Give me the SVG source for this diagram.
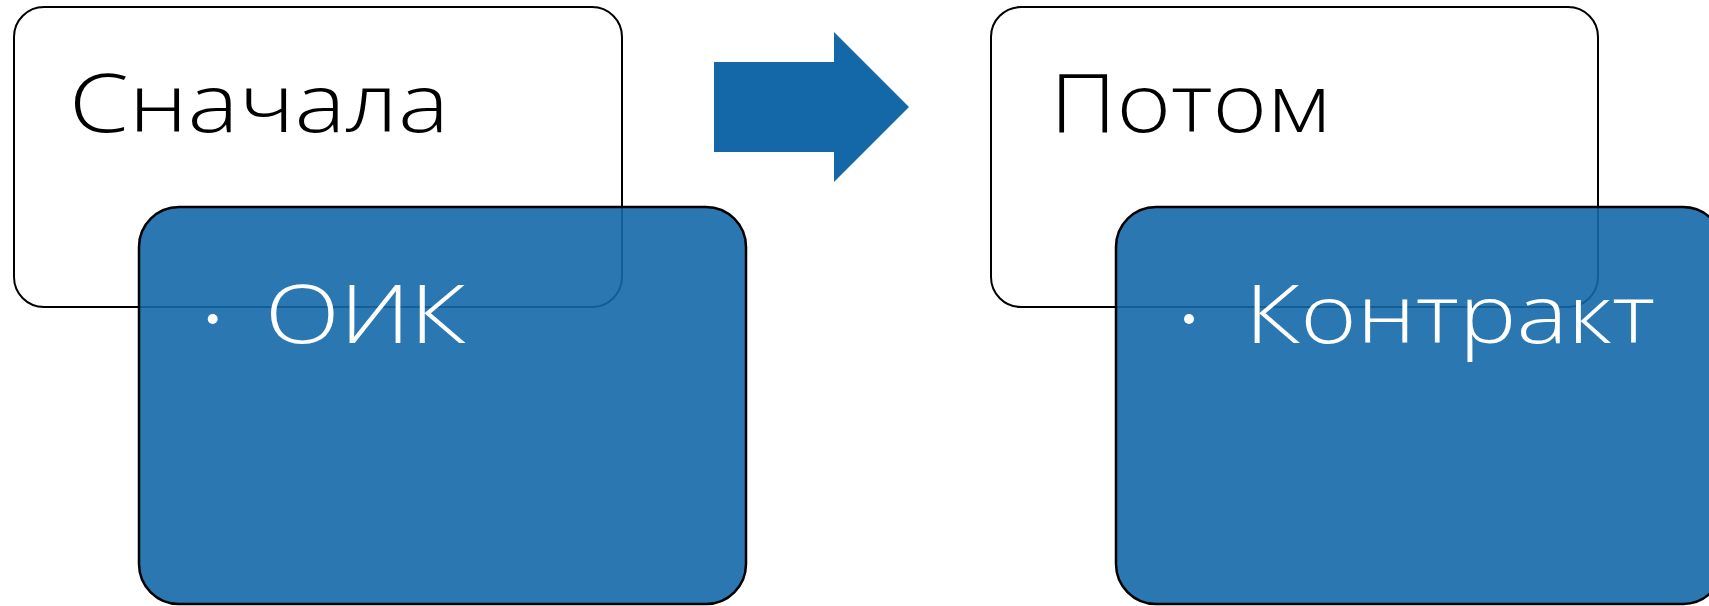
<svg xmlns="http://www.w3.org/2000/svg" width="1709" height="606" viewBox="0 0 1709 606">
<style>
.back{fill:#ffffff;stroke:#000000;stroke-width:2}
.front{fill:#1468A8;fill-opacity:0.9;stroke:#000000;stroke-width:2.5}
.t{font-family:"Open Sans","Liberation Sans",sans-serif;font-weight:300;font-size:81px}
.dark{fill:#000000}
.light{fill:#ffffff}
</style>
<rect width="1709" height="606" fill="#ffffff"/>
<g id="node-first">
<rect class="back" x="14" y="7" width="608" height="300" rx="30" ry="30"/>
<text class="t dark" x="69" y="131.5" textLength="380" lengthAdjust="spacingAndGlyphs">Сначала</text>
</g>
<g id="node-oik">
<rect class="front" x="139" y="207" width="607" height="397" rx="40" ry="40"/>
<circle class="light" cx="212.7" cy="319" r="5"/>
<text class="t light" x="265" y="342.5" textLength="201" lengthAdjust="spacingAndGlyphs">ОИК</text>
</g>
<g id="connectors">
<polygon points="714,62 834,62 834,32 909,107 834,182 834,152 714,152" fill="#1468A8"/>
</g>
<g id="node-then">
<rect class="back" x="991" y="7" width="607" height="300" rx="30" ry="30"/>
<text class="t dark" x="1050" y="131.5" textLength="280" lengthAdjust="spacingAndGlyphs">Потом</text>
</g>
<g id="node-contract">
<rect class="front" x="1116" y="207" width="607" height="397" rx="40" ry="40"/>
<circle class="light" cx="1189" cy="319" r="5"/>
<text class="t light" x="1245" y="342.5" textLength="410" lengthAdjust="spacingAndGlyphs">Контракт</text>
</g>
</svg>
